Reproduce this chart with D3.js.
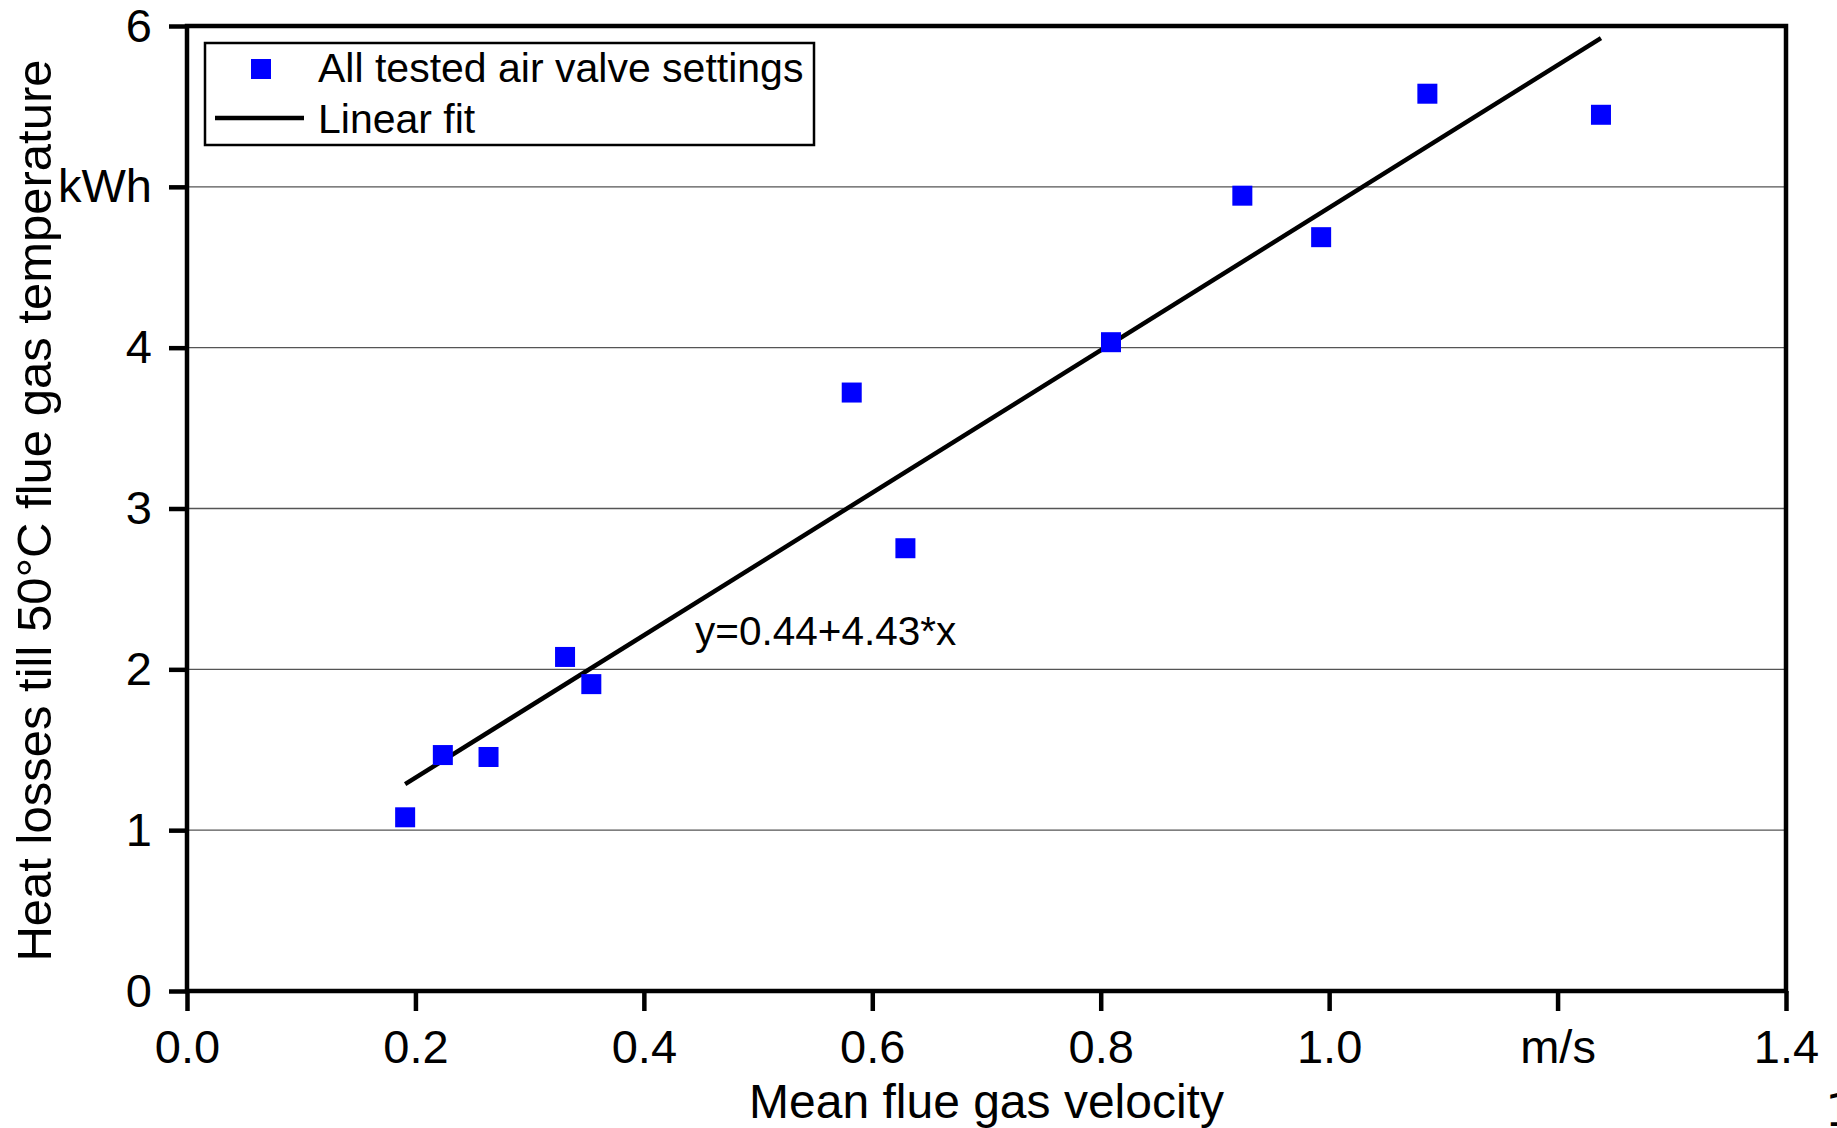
<!DOCTYPE html>
<html>
<head>
<meta charset="utf-8">
<script src="https://cdn.jsdelivr.net/npm/d3@7"></script>
<style>
  html, body { margin: 0; padding: 0; background: #fff; }
  svg { display: block; font-family: "Liberation Sans", Arial, sans-serif; }
</style>
</head>
<body>
<div id="chart"></div>
<script>
// measured values (mean flue gas velocity in m/s, heat losses in kWh)
const velocity = [0.191, 0.224, 0.264, 0.331, 0.354, 0.582, 0.629, 0.809, 0.924, 0.993, 1.086, 1.238];
const heatLoss = [1.08, 1.467, 1.455, 2.077, 1.908, 3.721, 2.753, 4.034, 4.945, 4.687, 5.579, 5.448];

// linear fit y = a + b*x
const fitIntercept = 0.44;
const fitSlope = 4.43;

const xTicks = [0, 0.2, 0.4, 0.6, 0.8, 1.0, 1.2, 1.4];
const yTicks = [0, 1, 2, 3, 4, 5, 6];
const xUnitTick = 1.2;   // shown as unit label instead of number
const yUnitTick = 5;

const legendLabels = ["All tested air valve settings", "Linear fit"];

const width = 1837;
const height = 1128;

const margin = { top: 26, right: 51, bottom: 137, left: 187 };
const usableArea = {
  top: margin.top,
  right: width - margin.right,
  bottom: height - margin.bottom,
  left: margin.left,
};

const svg = d3.select('#chart')
  .append('svg')
  .attr('width', width)
  .attr('height', height);

const xScale = d3.scaleLinear()
  .domain([0, 1.4])
  .range([usableArea.left, usableArea.right]);

const yScale = d3.scaleLinear()
  .domain([0, 6])
  .range([usableArea.bottom, usableArea.top]);

// gridlines
svg.append('g')
  .attr('class', 'gridlines')
  .selectAll('line')
  .data(yTicks.filter(d => d > 0))
  .join('line')
  .attr('x1', usableArea.left)
  .attr('x2', usableArea.right)
  .attr('y1', d => yScale(d))
  .attr('y2', d => yScale(d))
  .attr('stroke', '#555')
  .attr('stroke-width', 1.3);

// axes
const yAxis = d3.axisLeft(yScale)
  .tickValues(yTicks)
  .tickSize(18)
  .tickPadding(17)
  .tickFormat(d => d === yUnitTick ? 'kWh' : d);

const xAxis = d3.axisBottom(xScale)
  .tickValues(xTicks)
  .tickSize(20)
  .tickPadding(19)
  .tickFormat(d => d === xUnitTick ? 'm/s' : d3.format('.1f')(d));

const gy = svg.append('g')
  .attr('transform', `translate(${usableArea.left}, 0)`)
  .call(yAxis);

const gx = svg.append('g')
  .attr('transform', `translate(0, ${usableArea.bottom})`)
  .call(xAxis);

[gx, gy].forEach(g => {
  g.select('.domain').remove();
  g.selectAll('.tick line').attr('stroke', '#000').attr('stroke-width', 4.5);
  g.selectAll('.tick text')
    .attr('fill', '#000')
    .style('font-size', '47px')
    .style('font-family', '"Liberation Sans", Arial, sans-serif');
});

// plot frame
svg.append('rect')
  .attr('x', usableArea.left)
  .attr('y', usableArea.top)
  .attr('width', usableArea.right - usableArea.left)
  .attr('height', usableArea.bottom - usableArea.top)
  .attr('fill', 'none')
  .attr('stroke', '#000')
  .attr('stroke-width', 4.5);

// fit line over the range of the data
const [xMin, xMax] = d3.extent(velocity);
const line = d3.line()
  .x(d => xScale(d))
  .y(d => yScale(fitIntercept + fitSlope * d));

svg.append('path')
  .datum([xMin, xMax])
  .attr('d', line)
  .attr('fill', 'none')
  .attr('stroke', '#000')
  .attr('stroke-width', 4.5);

// data points
const points = velocity.map((v, i) => ({ x: v, y: heatLoss[i] }));
const size = 20;

svg.append('g')
  .attr('class', 'dots')
  .selectAll('rect')
  .data(points)
  .join('rect')
  .attr('x', d => xScale(d.x) - size / 2)
  .attr('y', d => yScale(d.y) - size / 2)
  .attr('width', size)
  .attr('height', size)
  .attr('fill', '#0000ff');

// equation label
svg.append('text')
  .attr('x', 695)
  .attr('y', 645)
  .style('font-size', '40.5px')
  .text(`y=${fitIntercept}+${fitSlope}*x`);

// legend
const legend = svg.append('g').attr('class', 'legend');
legend.append('rect')
  .attr('x', 205)
  .attr('y', 43)
  .attr('width', 609)
  .attr('height', 102)
  .attr('fill', '#fff')
  .attr('stroke', '#000')
  .attr('stroke-width', 2.5);

legend.append('rect')
  .attr('x', 251)
  .attr('y', 59)
  .attr('width', size)
  .attr('height', size)
  .attr('fill', '#0000ff');

legend.append('line')
  .attr('x1', 215)
  .attr('x2', 304)
  .attr('y1', 118)
  .attr('y2', 118)
  .attr('stroke', '#000')
  .attr('stroke-width', 4.5);

legend.selectAll('text.entry')
  .data(legendLabels)
  .join('text')
  .attr('class', 'entry')
  .attr('x', 318)
  .attr('y', (d, i) => 82 + i * 51)
  .style('font-size', '41px')
  .text(d => d);

// axis titles
svg.append('text')
  .attr('x', (usableArea.left + usableArea.right) / 2)
  .attr('y', 1118)
  .attr('text-anchor', 'middle')
  .style('font-size', '48px')
  .text('Mean flue gas velocity');

svg.append('text')
  .attr('transform', `translate(51, ${(usableArea.top + usableArea.bottom) / 2 + 2}) rotate(-90)`)
  .attr('text-anchor', 'middle')
  .style('font-size', '49px')
  .text('Heat losses till 50°C flue gas temperature');

// page number, cut at the edge as in the source
svg.append('text')
  .attr('x', 1825)
  .attr('y', 1126)
  .style('font-size', '44px')
  .style('font-family', '"DejaVu Sans Mono", monospace')
  .text('1');
</script>
</body>
</html>
